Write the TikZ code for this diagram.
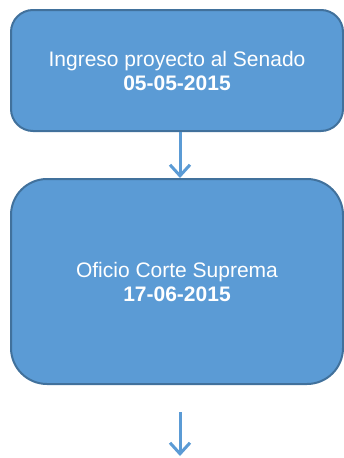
\documentclass[tikz,border=0pt]{standalone}
\usepackage{fontspec}
\setmainfont{Liberation Sans}
\usetikzlibrary{arrows.meta,positioning}
\definecolor{pasofill}{HTML}{5B9BD5}
\definecolor{pasoline}{HTML}{41719C}

\begin{document}
\begin{tikzpicture}[x=1pt,y=-1pt,
    paso/.style={draw=pasoline, fill=pasofill, line width=2pt, rounded corners=22pt,
      minimum width=332pt, align=center, text=white, font=\fontsize{21}{24}\selectfont},
    flecha/.style={draw=pasofill, line width=3pt, -{Straight Barb[length=11pt,width=20pt]}}]
    \useasboundingbox (0,0) rectangle (344,458);

    \node[paso, minimum height=121pt] (ingreso) at (177,70.5) {Ingreso proyecto al Senado\\\textbf{05-05-2015}};
    \node[paso, minimum height=205pt, rounded corners=36pt] (oficio) at (177,281.5) {Oficio Corte Suprema\\\textbf{17-06-2015}};
    \coordinate (siguiente) at (180,456);

    \draw[flecha] ([xshift=3pt]ingreso.south) -- ([xshift=3pt]oficio.north);
    \draw[flecha] ([xshift=3pt,yshift=-27pt]oficio.south) -- (siguiente);
  \end{tikzpicture}
\end{document}
